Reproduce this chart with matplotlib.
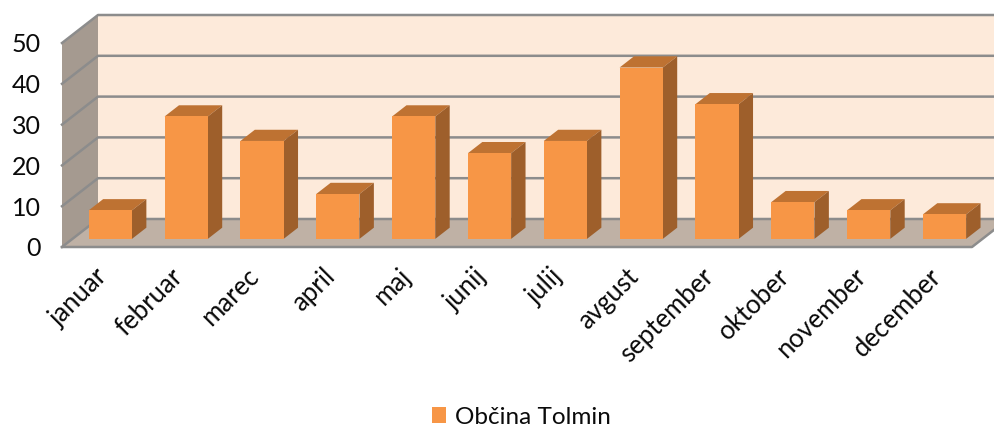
import matplotlib
matplotlib.use("Agg")
import matplotlib.pyplot as plt
import numpy as np

months = ["januar", "februar", "marec", "april", "maj", "junij", "julij",
          "avgust", "september", "oktober", "november", "december"]
values = [7, 30, 24, 11, 30, 21, 24, 42, 33, 9, 7, 6]
y_ticks = [0, 10, 20, 30, 40, 50]
series_name = "Občina Tolmin"

W, H = 995, 426
# slant of the depth axis, in data units for the whole chart depth
DX = 36 / 75.83
DY = 28 / 4.08
BAR_W = 0.57
D_FRONT, D_BACK = 0.29, 0.69

FRONT, TOP, SIDE = "#F79646", "#BE7232", "#9E5F2B"
GRID = "#8C8C8C"

plt.rcParams["font.family"] = ["Lato", "DejaVu Sans"]


def proj(x, v, d):
    return x + d * DX, v + d * DY


fig = plt.figure(figsize=(W / 100, H / 100), dpi=100)
ax = fig.add_axes([62 / W, 1 - 247 / H, 910 / W, 204 / H])
ax.set_xlim(0, 12)
ax.set_ylim(0, 50)
ax.patch.set_visible(False)
for s in ax.spines.values():
    s.set_visible(False)

right = 12 + DX
# walls and floor
ax.fill([DX, right, right, DX], [DY, DY, 50 + DY, 50 + DY], color="#FDEADA", lw=0, clip_on=False, zorder=1)
ax.fill([0, DX, DX, 0], [0, DY, 50 + DY, 50], color="#A59A90", lw=0, clip_on=False, zorder=1)
ax.fill([0, 12, right, DX], [0, 0, DY, DY], color="#BFB1A5", lw=0, clip_on=False, zorder=1)

for v in y_ticks:
    ax.plot([0, DX, right], [v, v + DY, v + DY], color=GRID, lw=1.8, clip_on=False, zorder=2)
ax.plot([0, 12, right], [0, 0, DY], color=GRID, lw=1.8, clip_on=False, zorder=2)

x = np.arange(len(values)) + 0.5
# bars: front faces through ax.bar, top and side from the same values
x0 = x - BAR_W / 2 + D_FRONT * DX
bars = ax.bar(x0, values, BAR_W, bottom=D_FRONT * DY, align="edge", color=FRONT,
              label=series_name, clip_on=False, zorder=4)
for xi, v in zip(x, values):
    l = xi - BAR_W / 2
    r = xi + BAR_W / 2
    top = [proj(l, v, D_FRONT), proj(r, v, D_FRONT), proj(r, v, D_BACK), proj(l, v, D_BACK)]
    side = [proj(r, 0, D_FRONT), proj(r, 0, D_BACK), proj(r, v, D_BACK), proj(r, v, D_FRONT)]
    ax.fill(*zip(*top), color=TOP, lw=0, clip_on=False, zorder=3)
    ax.fill(*zip(*side), color=SIDE, lw=0, clip_on=False, zorder=3)

ax.set_yticks(y_ticks)
ax.set_xticks(x - 0.07)
ax.set_xticklabels(months, rotation=45, ha="right", rotation_mode="anchor")
ax.tick_params(axis="y", length=0, pad=15, labelsize=18, labelcolor="#0A0A0A")
ax.tick_params(axis="x", length=0, pad=12, labelsize=18.5, labelcolor="#0A0A0A")

fig.legend(handles=[bars], loc="center", bbox_to_anchor=(521 / W, 1 - 417 / H), frameon=False,
           fontsize=17.5, handlelength=0.6, handleheight=0.6, handletextpad=0.35,
           borderpad=0, labelcolor="#0A0A0A")

fig.savefig("out.png", dpi=100)
